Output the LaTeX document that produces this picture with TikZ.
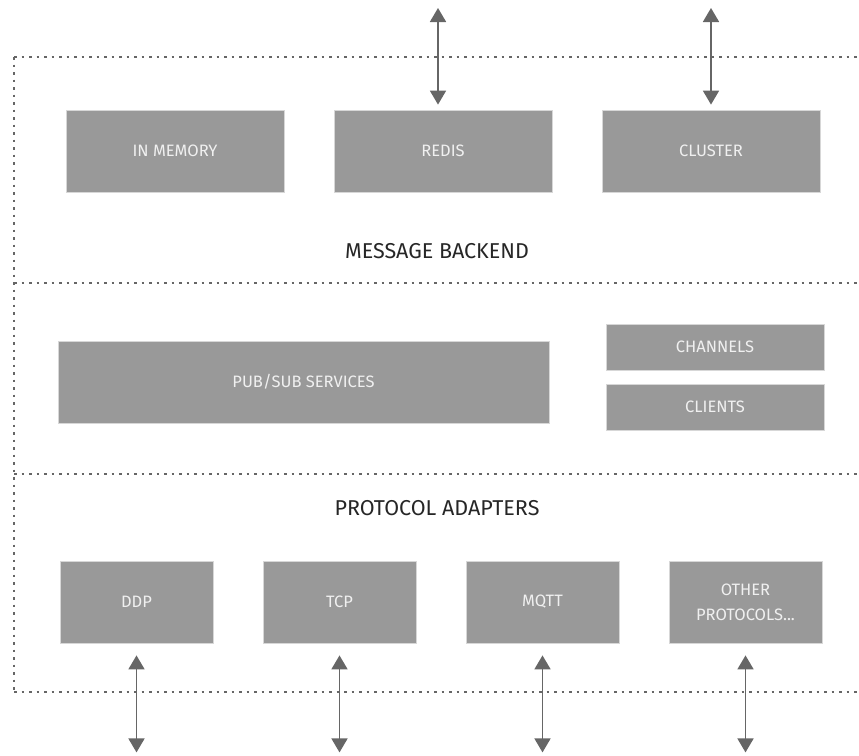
\documentclass[tikz,border=0pt]{standalone}
\usepackage{fontspec}
\setmainfont{Fira Sans}
\usepackage{tikz}
\usetikzlibrary{arrows.meta, positioning, calc}
\definecolor{boxgray}{RGB}{153, 153, 153}
\definecolor{boxedge}{RGB}{215, 215, 215}
\definecolor{linegray}{RGB}{102, 102, 102}
\definecolor{textlight}{RGB}{240, 240, 240}

\begin{document}
\begin{tikzpicture}[x=1pt, y=-1pt,
    block/.style={rectangle, fill=boxgray, draw=boxedge, line width=0.8pt, text=textlight, font=\fontsize{16.5}{21}\selectfont, align=center, inner sep=0pt},
    bigblock/.style={block, minimum width=218pt, minimum height=82pt},
    smallblock/.style={block, minimum width=153pt, minimum height=82pt},
    thinblock/.style={block, minimum width=218pt, minimum height=46pt},
    layer/.style={text=black!85, font=\fontsize{21.5}{25}\selectfont},
    sep/.style={linegray, line width=1.4pt, dash pattern=on 2.5pt off 5pt},
    link/.style={linegray, line width=1.8pt, {Triangle[width=16pt, length=14pt]}-{Triangle[width=16pt, length=14pt]}}]
    \useasboundingbox (0,0) rectangle (859,755);

    % Trennlinien
    \draw[sep] (14,57) -- (859,57);
    \draw[sep] (14,283) -- (859,283);
    \draw[sep] (14,474) -- (859,474);
    \draw[sep] (14,692) -- (859,692);
    \draw[sep] (14,57) -- (14,692);

    % Message Backend
    \node[bigblock] (mem) at (175, 151) {IN MEMORY};
    \node[bigblock] (redis) at (443, 151) {REDIS};
    \node[bigblock] (cluster) at (711, 151) {CLUSTER};
    \node[layer] (backend) at (437, 251) {MESSAGE BACKEND};

    % Pub/Sub
    \node[block, minimum width=491pt, minimum height=82pt] (pubsub) at (303.5, 382) {PUB/SUB SERVICES};
    \node[thinblock] (channels) at (715, 347) {CHANNELS};
    \node[thinblock] (clients) at (715, 407) {CLIENTS};

    % Protokolle
    \node[layer] (adapters) at (437, 508) {PROTOCOL ADAPTERS};
    \node[smallblock] (ddp) at (136.5, 602) {DDP};
    \node[smallblock] (tcp) at (339.5, 602) {TCP};
    \node[smallblock] (mqtt) at (542.5, 602) {MQTT};
    \node[smallblock] (other) at (745.5, 602) {OTHER\\[4pt]PROTOCOLS...};

    % Verbindungen nach aussen
    \coordinate (redisout) at (438, 8);
    \coordinate (clusterout) at (711, 8);
    \draw[link, shorten >=5pt] (redisout) -- (redisout |- redis.north);
    \draw[link, shorten >=5pt] (clusterout) -- (clusterout |- cluster.north);

    \foreach \p in {ddp, tcp, mqtt, other} {
        \coordinate (\p out) at ($(\p.south) + (0, 109)$);
        \draw[link, shorten <=12pt] (\p.south) -- (\p out);
    }
\end{tikzpicture}
\end{document}
